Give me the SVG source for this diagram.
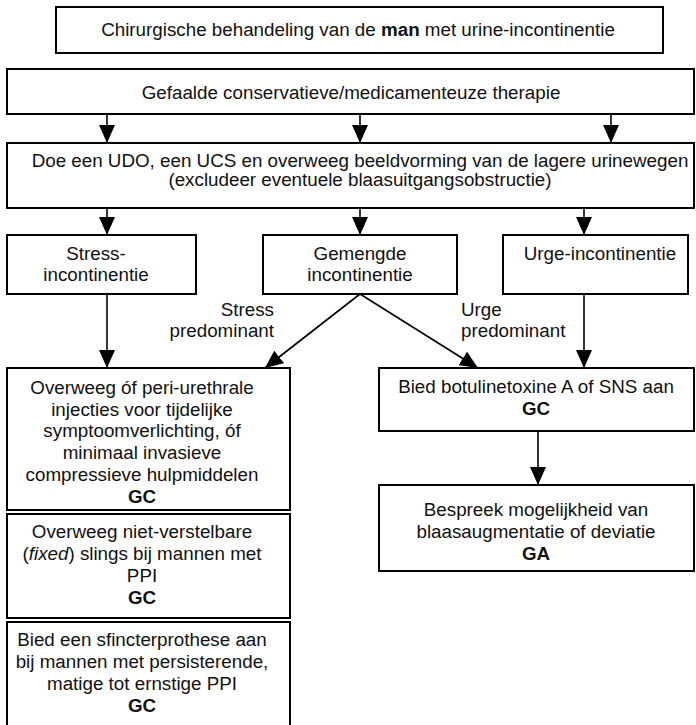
<svg xmlns="http://www.w3.org/2000/svg" width="696" height="725" viewBox="0 0 696 725">
  <style>
    .box { fill: #ffffff; stroke: #000000; stroke-width: 2; }
    .t { font-family: "Liberation Sans", Arial, Helvetica, sans-serif; font-size: 18.8px; fill: #111111; }
    .c { text-anchor: middle; }
    .r { text-anchor: end; }
    .b { font-weight: bold; }
    .edge { fill: none; stroke: #000000; stroke-width: 1.6; marker-end: url(#arrow); }
  </style>
  <defs>
    <marker id="arrow" viewBox="0 0 18 16" refX="18" refY="8" markerWidth="18" markerHeight="16" markerUnits="userSpaceOnUse" orient="auto">
      <path d="M0,0 L18,8 L0,16 z" fill="#000000"/>
    </marker>
  </defs>
  <rect width="696" height="725" fill="#ffffff"/>

  <!-- connectors -->
  <g id="connectors">
    <line class="edge" x1="107" y1="114" x2="107" y2="143"/>
    <line class="edge" x1="360" y1="114" x2="360" y2="143"/>
    <line class="edge" x1="611" y1="114" x2="611" y2="143"/>
    <line class="edge" x1="107" y1="208" x2="107" y2="235"/>
    <line class="edge" x1="360" y1="208" x2="360" y2="235"/>
    <line class="edge" x1="584" y1="208" x2="584" y2="235"/>
    <line class="edge" x1="107" y1="294" x2="107" y2="368"/>
    <line class="edge" x1="584" y1="294" x2="584" y2="368"/>
    <line class="edge" x1="360" y1="294" x2="265" y2="368"/>
    <line class="edge" x1="360" y1="294" x2="478" y2="368"/>
    <line class="edge" x1="538" y1="431" x2="538" y2="485"/>
    <text class="t r" x="274" y="316">Stress</text>
    <text class="t r" x="274" y="337">predominant</text>
    <text class="t" x="461" y="316">Urge</text>
    <text class="t" x="461" y="337">predominant</text>
  </g>

  <g id="title">
    <rect class="box" x="56" y="7" width="607" height="46"/>
    <text class="t c" x="358" y="36">Chirurgische behandeling van de <tspan class="b">man</tspan> met urine-incontinentie</text>
  </g>

  <g id="failed-therapy">
    <rect class="box" x="7" y="69" width="687" height="45"/>
    <text class="t c" x="351" y="99">Gefaalde conservatieve/medicamenteuze therapie</text>
  </g>

  <g id="diagnostics">
    <rect class="box" x="7" y="143" width="687" height="65"/>
    <text class="t c" x="360" y="167">Doe een UDO, een UCS en overweeg beeldvorming van de lagere urinewegen</text>
    <text class="t c" x="360" y="186">(excludeer eventuele blaasuitgangsobstructie)</text>
  </g>

  <g id="stress">
    <rect class="box" x="7" y="235" width="189" height="59"/>
    <text class="t c" x="96" y="260">Stress-</text>
    <text class="t c" x="96" y="281">incontinentie</text>
  </g>

  <g id="mixed">
    <rect class="box" x="263" y="235" width="194" height="59"/>
    <text class="t c" x="360" y="260">Gemengde</text>
    <text class="t c" x="360" y="281">incontinentie</text>
  </g>

  <g id="urge">
    <rect class="box" x="503" y="235" width="185" height="59"/>
    <text class="t c" x="600" y="260">Urge-incontinentie</text>
  </g>

  <g id="injections">
    <rect class="box" x="7" y="368" width="283" height="142"/>
    <text class="t c" x="142" y="394">Overweeg óf peri-urethrale</text>
    <text class="t c" x="142" y="416">injecties voor tijdelijke</text>
    <text class="t c" x="142" y="437">symptoomverlichting, óf</text>
    <text class="t c" x="142" y="459">minimaal invasieve</text>
    <text class="t c" x="142" y="481">compressieve hulpmiddelen</text>
    <text class="t c b" x="142" y="503">GC</text>
  </g>

  <g id="slings">
    <rect class="box" x="7" y="514" width="283" height="104"/>
    <text class="t c" x="142" y="538">Overweeg niet-verstelbare</text>
    <text class="t c" x="142" y="560">(<tspan font-style="italic">fixed</tspan>) slings bij mannen met</text>
    <text class="t c" x="142" y="582">PPI</text>
    <text class="t c b" x="142" y="604">GC</text>
  </g>

  <g id="sphincter">
    <rect class="box" x="7" y="622" width="283" height="112"/>
    <text class="t c" x="142" y="646">Bied een sfincterprothese aan</text>
    <text class="t c" x="142" y="668">bij mannen met persisterende,</text>
    <text class="t c" x="142" y="690">matige tot ernstige PPI</text>
    <text class="t c b" x="142" y="712">GC</text>
  </g>

  <g id="botox">
    <rect class="box" x="379" y="368" width="315" height="63"/>
    <text class="t c" x="536" y="393">Bied botulinetoxine A of SNS aan</text>
    <text class="t c b" x="536" y="415">GC</text>
  </g>

  <g id="augmentation">
    <rect class="box" x="379" y="485" width="315" height="86"/>
    <text class="t c" x="536" y="516">Bespreek mogelijkheid van</text>
    <text class="t c" x="536" y="538">blaasaugmentatie of deviatie</text>
    <text class="t c b" x="536" y="560">GA</text>
  </g>
</svg>
